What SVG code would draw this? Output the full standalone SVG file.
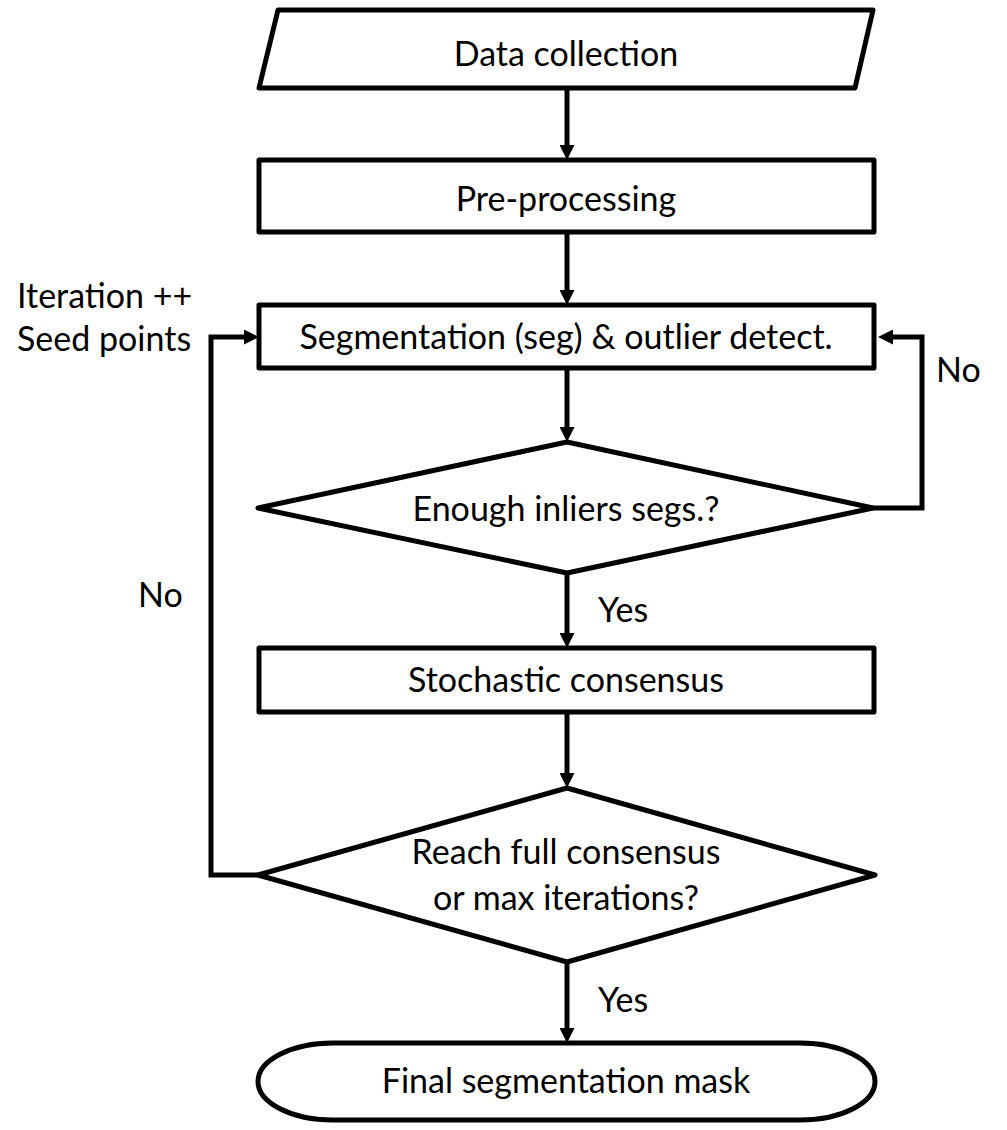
<svg xmlns="http://www.w3.org/2000/svg" width="1007" height="1130" viewBox="0 0 1007 1130">
<style>
.s{fill:#fff;stroke:#000;stroke-width:5;stroke-linejoin:round}
.c{fill:none;stroke:#000;stroke-width:5;stroke-linejoin:miter}
.t{font-family:Lato,"Liberation Sans",sans-serif;font-size:34px;fill:#000;text-anchor:middle}
.l{font-family:Lato,"Liberation Sans",sans-serif;font-size:34px;fill:#000}
</style>
<defs>
<marker id="ah" viewBox="0 0 10 10" refX="0" refY="5" markerWidth="15" markerHeight="15" markerUnits="userSpaceOnUse" orient="auto">
<path d="M0,0 L10,5 L0,10 z" fill="#000"/>
</marker>
</defs>
<g id="connectors">
<path class="c" d="M567,88 V145" marker-end="url(#ah)"/>
<path class="c" d="M567,232 V290" marker-end="url(#ah)"/>
<path class="c" d="M567,368 V427" marker-end="url(#ah)"/>
<path class="c" d="M567,573 V633" marker-end="url(#ah)"/>
<path class="c" d="M567,712 V773" marker-end="url(#ah)"/>
<path class="c" d="M567,962 V1028" marker-end="url(#ah)"/>
<path class="c" d="M873,508 H922 V337 H893" marker-end="url(#ah)"/>
<path class="c" d="M258,875 H211 V337 H244" marker-end="url(#ah)"/>
</g>
<g id="n1"><polygon class="s" points="278,10 873,10 855,88 259,88"/><text class="t" x="566" y="66">Data collection</text></g>
<g id="n2"><rect class="s" x="259" y="160" width="615" height="72"/><text class="t" x="566" y="211">Pre-processing</text></g>
<g id="n3"><rect class="s" x="259" y="305" width="615" height="63"/><text class="t" x="566" y="349">Segmentation (seg) &amp; outlier detect.</text></g>
<g id="n4"><polygon class="s" points="567,442 873,508 567,573 258,508"/><text class="t" x="566" y="521">Enough inliers segs.?</text></g>
<g id="n5"><rect class="s" x="259" y="648" width="615" height="64"/><text class="t" x="566" y="692">Stochastic consensus</text></g>
<g id="n6"><polygon class="s" points="567,788 875,875 567,962 258,875"/><text class="t" x="566" y="864">Reach full consensus</text><text class="t" x="566" y="910">or max iterations?</text></g>
<g id="n7"><rect class="s" x="258" y="1043" width="617" height="77" rx="75" ry="38.5"/><text class="t" x="566" y="1093">Final segmentation mask</text></g>
<g id="labels">
<text class="l" x="17" y="308">Iteration ++</text>
<text class="l" x="17" y="351">Seed points</text>
<text class="l" x="138" y="607">No</text>
<text class="l" x="936" y="382">No</text>
<text class="l" x="598" y="622">Yes</text>
<text class="l" x="598" y="1012">Yes</text>
</g>
</svg>
